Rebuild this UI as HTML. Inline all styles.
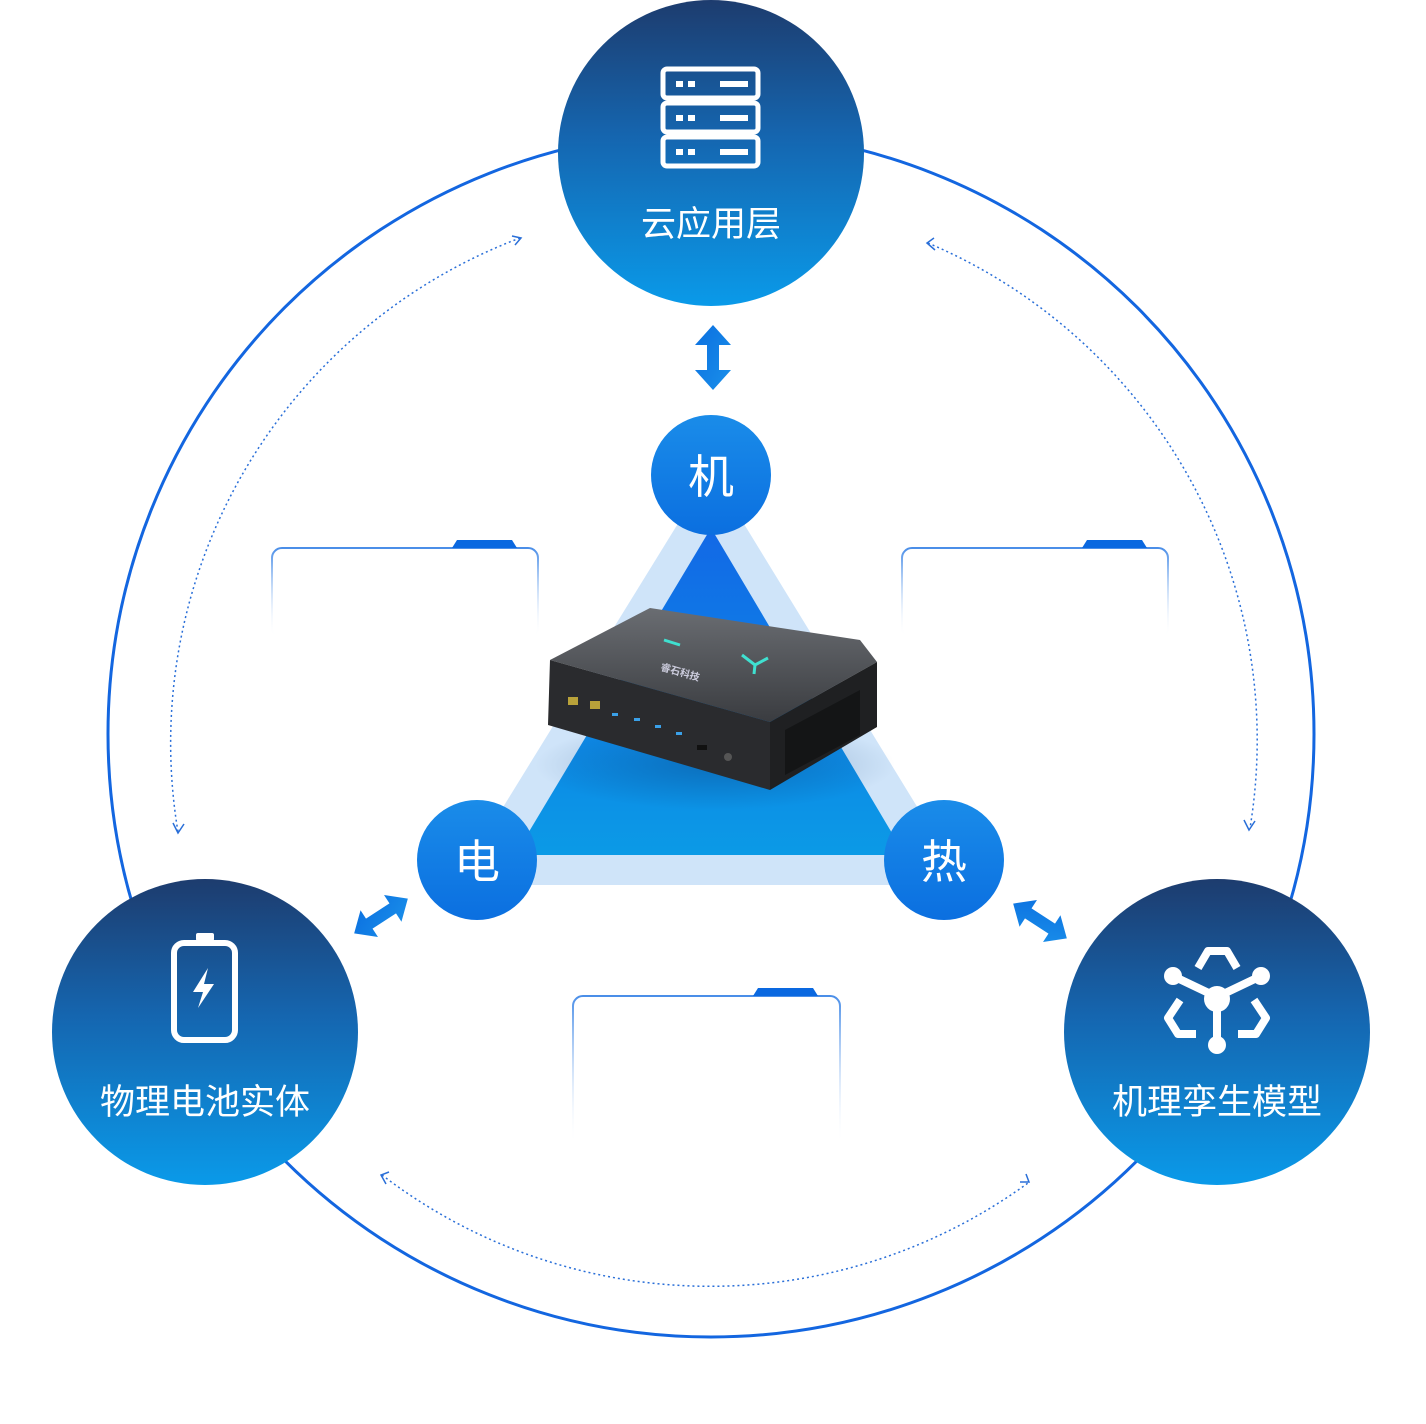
<!DOCTYPE html>
<html><head><meta charset="utf-8"><style>
html,body{margin:0;padding:0;background:#fff;width:1426px;height:1424px;overflow:hidden}
svg text{font-family:"Liberation Sans","Noto Sans CJK SC",sans-serif;fill:#fff}
</style></head><body>
<svg width="1426" height="1424" viewBox="0 0 1426 1424" xmlns="http://www.w3.org/2000/svg">
<defs>
<linearGradient id="big" x1="0" y1="0" x2="0" y2="1">
<stop offset="0" stop-color="#1d3c6e"/><stop offset="0.45" stop-color="#1566b0"/><stop offset="1" stop-color="#0a9ae9"/></linearGradient>
<linearGradient id="sm" x1="0" y1="0" x2="0" y2="1">
<stop offset="0" stop-color="#1a8ce9"/><stop offset="1" stop-color="#0b6fe0"/></linearGradient>
<linearGradient id="tri" x1="0" y1="0" x2="0" y2="1">
<stop offset="0" stop-color="#1268e6"/><stop offset="1" stop-color="#0b9ae6"/></linearGradient>
<linearGradient id="card" x1="0" y1="0" x2="0" y2="1">
<stop offset="0" stop-color="#4a8ee8"/><stop offset="1" stop-color="#ffffff" stop-opacity="0"/></linearGradient>
<linearGradient id="arr" x1="0" y1="0" x2="1" y2="1">
<stop offset="0" stop-color="#0b6fe0"/><stop offset="1" stop-color="#1a90ea"/></linearGradient>
<linearGradient id="dev" x1="0" y1="0" x2="0" y2="1">
<stop offset="0" stop-color="#6a6d72"/><stop offset="1" stop-color="#3a3c40"/></linearGradient>
<radialGradient id="shd"><stop offset="0" stop-color="#0a3a70" stop-opacity="0.35"/><stop offset="1" stop-color="#0a3a70" stop-opacity="0"/></radialGradient>
</defs>
<circle cx="711" cy="734" r="603" fill="none" stroke="#1366e0" stroke-width="3"/>
<g fill="none" stroke="#2a6fd8" stroke-width="1.5" stroke-dasharray="2 3">
<path d="M520 238 A540 540 0 0 0 178 832"/>
<path d="M928 243 A540 540 0 0 1 1250 828"/>
<path d="M382 1175 A540 540 0 0 0 1028 1183"/>
</g>
<g fill="none" stroke="#2a6fd8" stroke-width="1.5">
<path d="M512 236 L521 238 L515 245"/>
<path d="M173 823 L178 833 L184 824"/>
<path d="M934 238 L927 243 L935 250"/>
<path d="M1244 820 L1249 830 L1255 821"/>
<path d="M389 1172 L381 1175 L386 1184"/>
<path d="M1020 1182 L1029 1182 L1026 1174"/>
</g>
<g>
<rect x="272" y="548" width="266" height="90" rx="10" fill="#fff" stroke="url(#card)" stroke-width="2"/>
<path d="M452 548 L457 540 L512 540 L517 548 Z" fill="#0a68e0"/>
<rect x="902" y="548" width="266" height="90" rx="10" fill="#fff" stroke="url(#card)" stroke-width="2"/>
<path d="M1082 548 L1087 540 L1142 540 L1147 548 Z" fill="#0a68e0"/>
<rect x="573" y="996" width="267" height="150" rx="10" fill="#fff" stroke="url(#card)" stroke-width="2"/>
<path d="M753 996 L758 988 L813 988 L818 996 Z" fill="#0a68e0"/>
</g>
<polygon points="711,470 455,885 965,885" fill="#cfe4f9"/>
<polygon points="711,528 515,855 905,855" fill="url(#tri)"/>
<g>
<ellipse cx="715" cy="765" rx="180" ry="45" fill="url(#shd)"/>
<polygon points="550,660 650,608 860,640 877,662 770,722" fill="url(#dev)"/>
<polygon points="550,660 770,722 770,790 548,725" fill="#2a2b2e"/>
<polygon points="770,722 877,662 877,727 770,790" fill="#1f2022"/>
<polygon points="785,730 860,690 860,735 785,775" fill="#141516"/>
<g fill="#3aa0e8"><rect x="612" y="713" width="6" height="3"/><rect x="634" y="718" width="6" height="3"/><rect x="655" y="725" width="6" height="3"/><rect x="676" y="732" width="6" height="3"/></g>
<g fill="#b9a23a"><rect x="568" y="697" width="10" height="8"/><rect x="590" y="701" width="10" height="8"/></g>
<rect x="697" y="745" width="10" height="5" fill="#111"/>
<circle cx="728" cy="757" r="4" fill="#555"/>
<text x="660" y="670" font-size="10" font-weight="bold" style="fill:#ccd" transform="rotate(16 660 670)">睿石科技</text>
<path d="M742 655 L755 665 L768 658 M755 665 L754 674" stroke="#3fe0d0" stroke-width="3" fill="none"/>
<path d="M664 640 L680 645" stroke="#3fe0d0" stroke-width="3"/>
</g>
<circle cx="711" cy="475" r="60" fill="url(#sm)"/>
<circle cx="477" cy="860" r="60" fill="url(#sm)"/>
<circle cx="944" cy="860" r="60" fill="url(#sm)"/>
<text x="711" y="493" font-size="46" text-anchor="middle">机</text>
<text x="477" y="878" font-size="46" text-anchor="middle">电</text>
<text x="944" y="878" font-size="46" text-anchor="middle">热</text>
<polygon points="713,325 731,345 719,345 719,370 731,370 713,390 695,370 707,370 707,345 695,345" fill="url(#arr)"/>
<g transform="translate(381,916) rotate(-33)"><polygon points="-32,0 -14,-16 -14,-6 14,-6 14,-16 32,0 14,16 14,6 -14,6 -14,16" fill="url(#arr)"/></g>
<g transform="translate(1040,921) rotate(33)"><polygon points="-32,0 -14,-16 -14,-6 14,-6 14,-16 32,0 14,16 14,6 -14,6 -14,16" fill="url(#arr)"/></g>
<circle cx="711" cy="153" r="153" fill="url(#big)"/>
<circle cx="205" cy="1032" r="153" fill="url(#big)"/>
<circle cx="1217" cy="1032" r="153" fill="url(#big)"/>
<g fill="none" stroke="#fff" stroke-width="5">
<rect x="663" y="69" width="95" height="29" rx="4"/>
<rect x="663" y="103" width="95" height="29" rx="4"/>
<rect x="663" y="137" width="95" height="29" rx="4"/>
</g>
<g fill="#fff">
<rect x="676" y="81" width="7" height="6"/><rect x="688" y="81" width="7" height="6"/><rect x="720" y="81" width="28" height="6"/>
<rect x="676" y="115" width="7" height="6"/><rect x="688" y="115" width="7" height="6"/><rect x="720" y="115" width="28" height="6"/>
<rect x="676" y="149" width="7" height="6"/><rect x="688" y="149" width="7" height="6"/><rect x="720" y="149" width="28" height="6"/>
</g>
<text x="711" y="236" font-size="35" text-anchor="middle">云应用层</text>
<rect x="196" y="933" width="18" height="8" rx="2" fill="#fff"/>
<rect x="174" y="943" width="61" height="97" rx="10" fill="none" stroke="#fff" stroke-width="6"/>
<polygon points="208,968 193,992 203,992 198,1008 214,984 204,984" fill="#fff"/>
<text x="205" y="1114" font-size="35" text-anchor="middle">物理电池实体</text>
<g stroke="#fff" stroke-width="8" fill="none" stroke-linejoin="round">
<path d="M1198 968 L1208 951 L1227 951 L1237 968"/>
<path d="M1180 1000 L1168 1018 L1178 1034 L1196 1034"/>
<path d="M1254 1000 L1266 1018 L1256 1034 L1238 1034"/>
<path d="M1173 976 L1217 997 L1261 976 M1217 997 L1217 1045"/>
</g>
<g fill="#fff"><circle cx="1173" cy="976" r="9"/><circle cx="1261" cy="976" r="9"/><circle cx="1217" cy="999" r="13"/><circle cx="1217" cy="1045" r="9"/></g>
<text x="1217" y="1114" font-size="35" text-anchor="middle">机理孪生模型</text>
</svg>
</body></html>
